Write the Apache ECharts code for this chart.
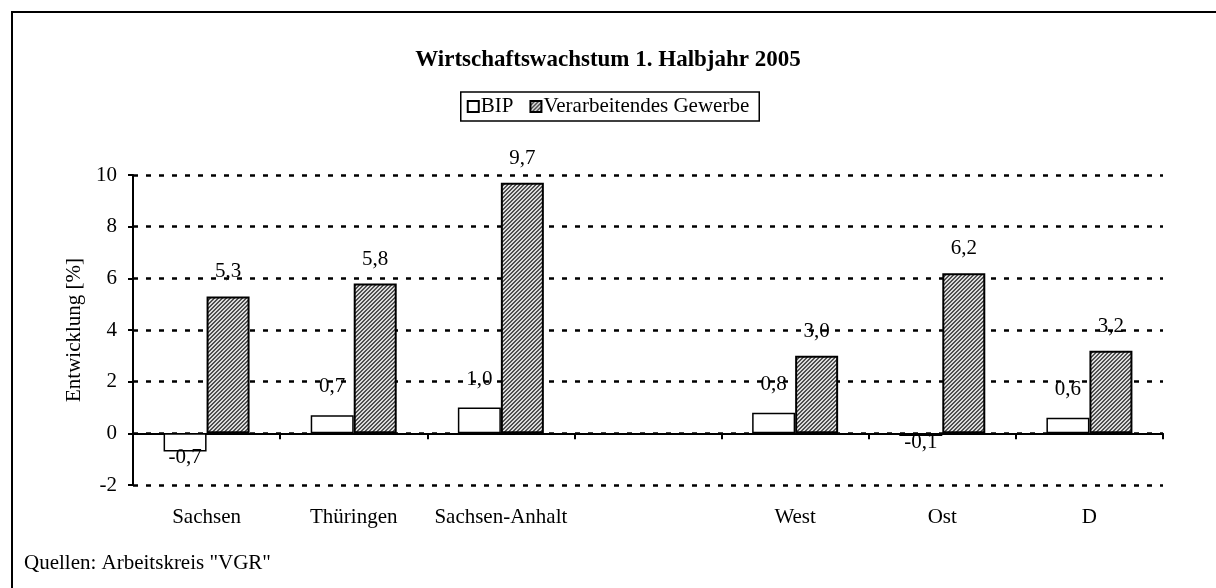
<!DOCTYPE html>
<html>
<head>
<meta charset="utf-8">
<script src="https://cdn.jsdelivr.net/npm/echarts@6/dist/echarts.min.js"></script>
<style>
  body { margin: 0; background: #fff; }
  #main { width: 1216px; height: 588px; }
</style>
</head>
<body>
<div id="main"></div>
<script>
// chart data
const categories = ['Sachsen', 'Thüringen', 'Sachsen-Anhalt', '', 'West', 'Ost', 'D'];
const bipValues = [-0.7, 0.7, 1.0, null, 0.8, -0.1, 0.6];
const gewerbeValues = [5.3, 5.8, 9.7, null, 3.0, 6.2, 3.2];
const yTicks = [-2, 0, 2, 4, 6, 8, 10];

const FONT = '"Liberation Serif", "Times New Roman", serif';

// small diagonal hatch for the second series
function makeHatch() {
    let c = document.createElement('canvas');
    c.width = 4;
    c.height = 4;
    let ctx = c.getContext('2d');
    ctx.fillStyle = '#dcdcdc';
    ctx.fillRect(0, 0, 4, 4);
    ctx.fillStyle = '#505050';
    for (let i = 0; i < 4; i++) {
        ctx.fillRect(i, (3 - i) % 4, 1, 1);
        ctx.fillRect(i, (4 - i) % 4, 1, 1);
    }
    return c;
}
const hatch = { image: makeHatch(), repeat: 'repeat' };

function fmt(v) {
    return v.toFixed(1).replace('.', ',');
}

// negative values get their label under the bar
function toItems(values) {
    return values.map(v => {
        if (v === null) return '-';
        if (v < 0) return { value: v, label: { position: 'bottom', distance: -4 } };
        return v;
    });
}

const chart = echarts.init(document.getElementById('main'));

const option = {
    animation: false,
    title: {
        text: 'Wirtschaftswachstum 1. Halbjahr 2005',
        left: 'center',
        top: 44,
        textStyle: { fontFamily: FONT, fontSize: 23, fontWeight: 'bold', color: '#000' }
    },
    legend: {
        top: 92,
        left: 'center',
        data: ['BIP', 'Verarbeitendes Gewerbe'],
        icon: 'rect',
        itemWidth: 11,
        itemHeight: 11,
        itemGap: 16,
        padding: [4, 10, 4, 6],
        borderColor: '#000',
        borderWidth: 1.5,
        borderRadius: 0,
        itemStyle: { borderColor: '#000', borderWidth: 2 },
        textStyle: { fontFamily: FONT, fontSize: 21, color: '#000', padding: [0, 0, 0, -3] }
    },
    grid: { left: 133, right: 53, top: 175, bottom: 103, containLabel: false },
    xAxis: {
        type: 'category',
        data: categories,
        axisLine: { onZero: true, lineStyle: { color: '#000', width: 2 } },
        axisTick: { show: true, alignWithLabel: false, length: 6, lineStyle: { color: '#000', width: 2 } },
        axisLabel: { margin: 22, interval: 0, fontFamily: FONT, fontSize: 21, color: '#000' },
        splitLine: { show: false }
    },
    yAxis: {
        type: 'value',
        min: yTicks[0],
        max: yTicks[yTicks.length - 1],
        interval: 2,
        name: 'Entwicklung [%]',
        nameLocation: 'middle',
        nameGap: 48,
        nameTextStyle: { fontFamily: FONT, fontSize: 21, color: '#000' },
        axisLine: { show: true, lineStyle: { color: '#000', width: 2 } },
        axisTick: { show: true, length: 5, lineStyle: { color: '#000', width: 2 } },
        axisLabel: { margin: 16, fontFamily: FONT, fontSize: 21, color: '#000' },
        splitLine: { show: true, lineStyle: { color: '#000', width: 2.5, type: [5, 8] } }
    },
    series: [
        {
            name: 'BIP',
            type: 'bar',
            data: toItems(bipValues),
            barWidth: 43,
            barGap: '0%',
            itemStyle: { color: '#fff', borderColor: '#000', borderWidth: 1.5 },
            label: {
                show: true,
                position: 'top',
                distance: 18,
                formatter: p => fmt(p.value),
                fontFamily: FONT, fontSize: 21, color: '#000'
            }
        },
        {
            name: 'Verarbeitendes Gewerbe',
            type: 'bar',
            data: toItems(gewerbeValues),
            barWidth: 43,
            barGap: '0%',
            itemStyle: { color: hatch, borderColor: '#000', borderWidth: 2 },
            label: {
                show: true,
                position: 'top',
                distance: 14,
                formatter: p => fmt(p.value),
                fontFamily: FONT, fontSize: 21, color: '#000'
            }
        }
    ],
    graphic: [
        {
            type: 'rect',
            shape: { x: 12, y: 12, width: 1300, height: 700 },
            style: { fill: null, stroke: '#000', lineWidth: 2 },
            silent: true
        },
        {
            type: 'text',
            left: 24,
            top: 553,
            style: { text: 'Quellen: Arbeitskreis "VGR"', font: '21px ' + FONT, fill: '#000' }
        }
    ]
};

chart.setOption(option);
</script>
</body>
</html>
